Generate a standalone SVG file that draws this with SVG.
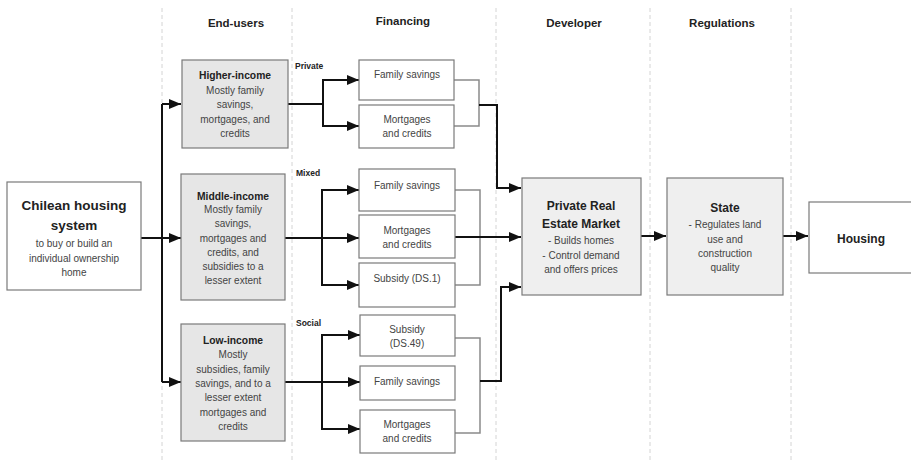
<svg xmlns="http://www.w3.org/2000/svg" width="911" height="463" viewBox="0 0 911 463">
<defs>
<marker id="ah" viewBox="0 0 12 10" refX="12" refY="5" markerWidth="12" markerHeight="10" markerUnits="userSpaceOnUse" orient="auto">
<path d="M0,0 L12,5 L0,10 z" fill="#111"/>
</marker>
</defs>
<style>
text{font-family:"Liberation Sans",Arial,sans-serif;text-anchor:middle}
.hd{font-size:11.5px;font-weight:bold;fill:#222}
.b{font-size:10.3px;font-weight:bold;fill:#222}
.t{font-size:10px;fill:#444}
.lb{font-size:8.5px;font-weight:bold;fill:#222;text-anchor:start}
.big{font-size:13.5px;font-weight:bold;fill:#222}
.mid{font-size:12px;font-weight:bold;fill:#222}
.div{stroke:#d4d4d4;stroke-width:1;stroke-dasharray:4 3;fill:none}
.box{fill:#fff;stroke:#7a7a7a;stroke-width:1.2}
.gbox{fill:#e6e6e6;stroke:#7a7a7a;stroke-width:1.2}
.lbox{fill:#efefef;stroke:#7a7a7a;stroke-width:1.2}
.k{fill:none;stroke:#111;stroke-width:2}
.a{fill:none;stroke:#111;stroke-width:2;marker-end:url(#ah)}
.g{fill:none;stroke:#8a8a8a;stroke-width:1.5}
</style>
<rect width="911" height="463" fill="#fff"/>
<g id="dividers">
<line class="div" x1="162" y1="8" x2="162" y2="463"/>
<line class="div" x1="292" y1="8" x2="292" y2="463"/>
<line class="div" x1="496" y1="8" x2="496" y2="463"/>
<line class="div" x1="650" y1="8" x2="650" y2="463"/>
<line class="div" x1="791" y1="8" x2="791" y2="463"/>
</g>
<g id="headers">
<text class="hd" x="236" y="27">End-users</text>
<text class="hd" x="403" y="25">Financing</text>
<text class="hd" x="574" y="27">Developer</text>
<text class="hd" x="722" y="27">Regulations</text>
</g>
<g id="connectors">
<path class="k" d="M162,238 V104"/>
<path class="k" d="M162,238 V382"/>
<path class="a" d="M162,104 H181"/>
<path class="a" d="M141,238 H181"/>
<path class="a" d="M162,382 H181"/>
<path class="k" d="M288,104 H323"/>
<path class="a" d="M323,104 V80 H359"/>
<path class="a" d="M323,104 V126 H359"/>
<path class="k" d="M285,238 H322"/>
<path class="a" d="M322,238 V190 H359"/>
<path class="a" d="M322,238 H359"/>
<path class="a" d="M322,238 V285 H359"/>
<path class="k" d="M285,382 H322"/>
<path class="a" d="M322,382 V335 H360"/>
<path class="a" d="M322,382 H360"/>
<path class="a" d="M322,382 V429 H360"/>
<path class="g" d="M454,80 H479 V126 H454"/>
<path class="g" d="M455,190 H480 V285 H455"/>
<path class="g" d="M455,338 H480 V433 H455"/>
<path class="a" d="M479,105 H497 V188 H521"/>
<path class="a" d="M455,237 H521"/>
<path class="a" d="M480,381 H501 V287 H521"/>
<path class="a" d="M641,236 H666"/>
<path class="a" d="M783,236 H808"/>
</g>
<g id="labels">
<text class="lb" x="295" y="69">Private</text>
<text class="lb" x="296" y="176">Mixed</text>
<text class="lb" x="296" y="326">Social</text>
</g>
<g id="chilean">
<rect class="box" x="7" y="182" width="134" height="108"/>
<text class="big" x="74" y="210">Chilean housing</text>
<text class="big" x="74" y="230">system</text>
<text class="t" x="74" y="247">to buy or build an</text>
<text class="t" x="74" y="262">individual ownership</text>
<text class="t" x="74" y="276">home</text>
</g>
<g id="higher">
<rect class="gbox" x="182" y="60" width="106" height="88"/>
<text class="b" x="235" y="79">Higher-income</text>
<text class="t" x="235" y="94">Mostly family</text>
<text class="t" x="235" y="108">savings,</text>
<text class="t" x="235" y="123">mortgages, and</text>
<text class="t" x="235" y="137">credits</text>
</g>
<g id="middle">
<rect class="gbox" x="181" y="174" width="104" height="126"/>
<text class="b" x="233" y="200">Middle-income</text>
<text class="t" x="233" y="213">Mostly family</text>
<text class="t" x="233" y="227">savings,</text>
<text class="t" x="233" y="242">mortgages and</text>
<text class="t" x="233" y="256">credits, and</text>
<text class="t" x="233" y="270">subsidies to a</text>
<text class="t" x="233" y="284">lesser extent</text>
</g>
<g id="low">
<rect class="gbox" x="181" y="324" width="104" height="117"/>
<text class="b" x="233" y="344">Low-income</text>
<text class="t" x="233" y="358">Mostly</text>
<text class="t" x="233" y="373">subsidies, family</text>
<text class="t" x="233" y="387">savings, and to a</text>
<text class="t" x="233" y="401">lesser extent</text>
<text class="t" x="233" y="416">mortgages and</text>
<text class="t" x="233" y="430">credits</text>
</g>
<g id="p-savings">
<rect class="box" x="359" y="60" width="95" height="40"/>
<text class="t" x="407" y="78">Family savings</text>
</g>
<g id="p-mortgages">
<rect class="box" x="359" y="105" width="95" height="43"/>
<text class="t" x="407" y="123">Mortgages</text>
<text class="t" x="407" y="137">and credits</text>
</g>
<g id="m-savings">
<rect class="box" x="359" y="169" width="96" height="42"/>
<text class="t" x="407" y="189">Family savings</text>
</g>
<g id="m-mortgages">
<rect class="box" x="359" y="215" width="96" height="43"/>
<text class="t" x="407" y="234">Mortgages</text>
<text class="t" x="407" y="248">and credits</text>
</g>
<g id="m-subsidy">
<rect class="box" x="359" y="263" width="96" height="44"/>
<text class="t" x="407" y="282">Subsidy (DS.1)</text>
</g>
<g id="s-subsidy">
<rect class="box" x="360" y="315" width="95" height="41"/>
<text class="t" x="407" y="333">Subsidy</text>
<text class="t" x="407" y="347">(DS.49)</text>
</g>
<g id="s-savings">
<rect class="box" x="360" y="366" width="95" height="34"/>
<text class="t" x="407" y="385">Family savings</text>
</g>
<g id="s-mortgages">
<rect class="box" x="360" y="410" width="95" height="43"/>
<text class="t" x="407" y="428">Mortgages</text>
<text class="t" x="407" y="442">and credits</text>
</g>
<g id="market">
<rect class="lbox" x="522" y="178" width="119" height="117"/>
<text class="mid" x="581" y="210">Private Real</text>
<text class="mid" x="581" y="228">Estate Market</text>
<text class="t" x="581" y="244">- Builds homes</text>
<text class="t" x="581" y="259">- Control demand</text>
<text class="t" x="581" y="273">and offers prices</text>
</g>
<g id="state">
<rect class="lbox" x="667" y="178" width="116" height="117"/>
<text class="mid" x="725" y="212">State</text>
<text class="t" x="725" y="228">- Regulates land</text>
<text class="t" x="725" y="243">use and</text>
<text class="t" x="725" y="257">construction</text>
<text class="t" x="725" y="271">quality</text>
</g>
<g id="housing">
<rect class="box" x="809" y="202" width="110" height="71"/>
<text class="mid" x="861" y="243">Housing</text>
</g>
</svg>
